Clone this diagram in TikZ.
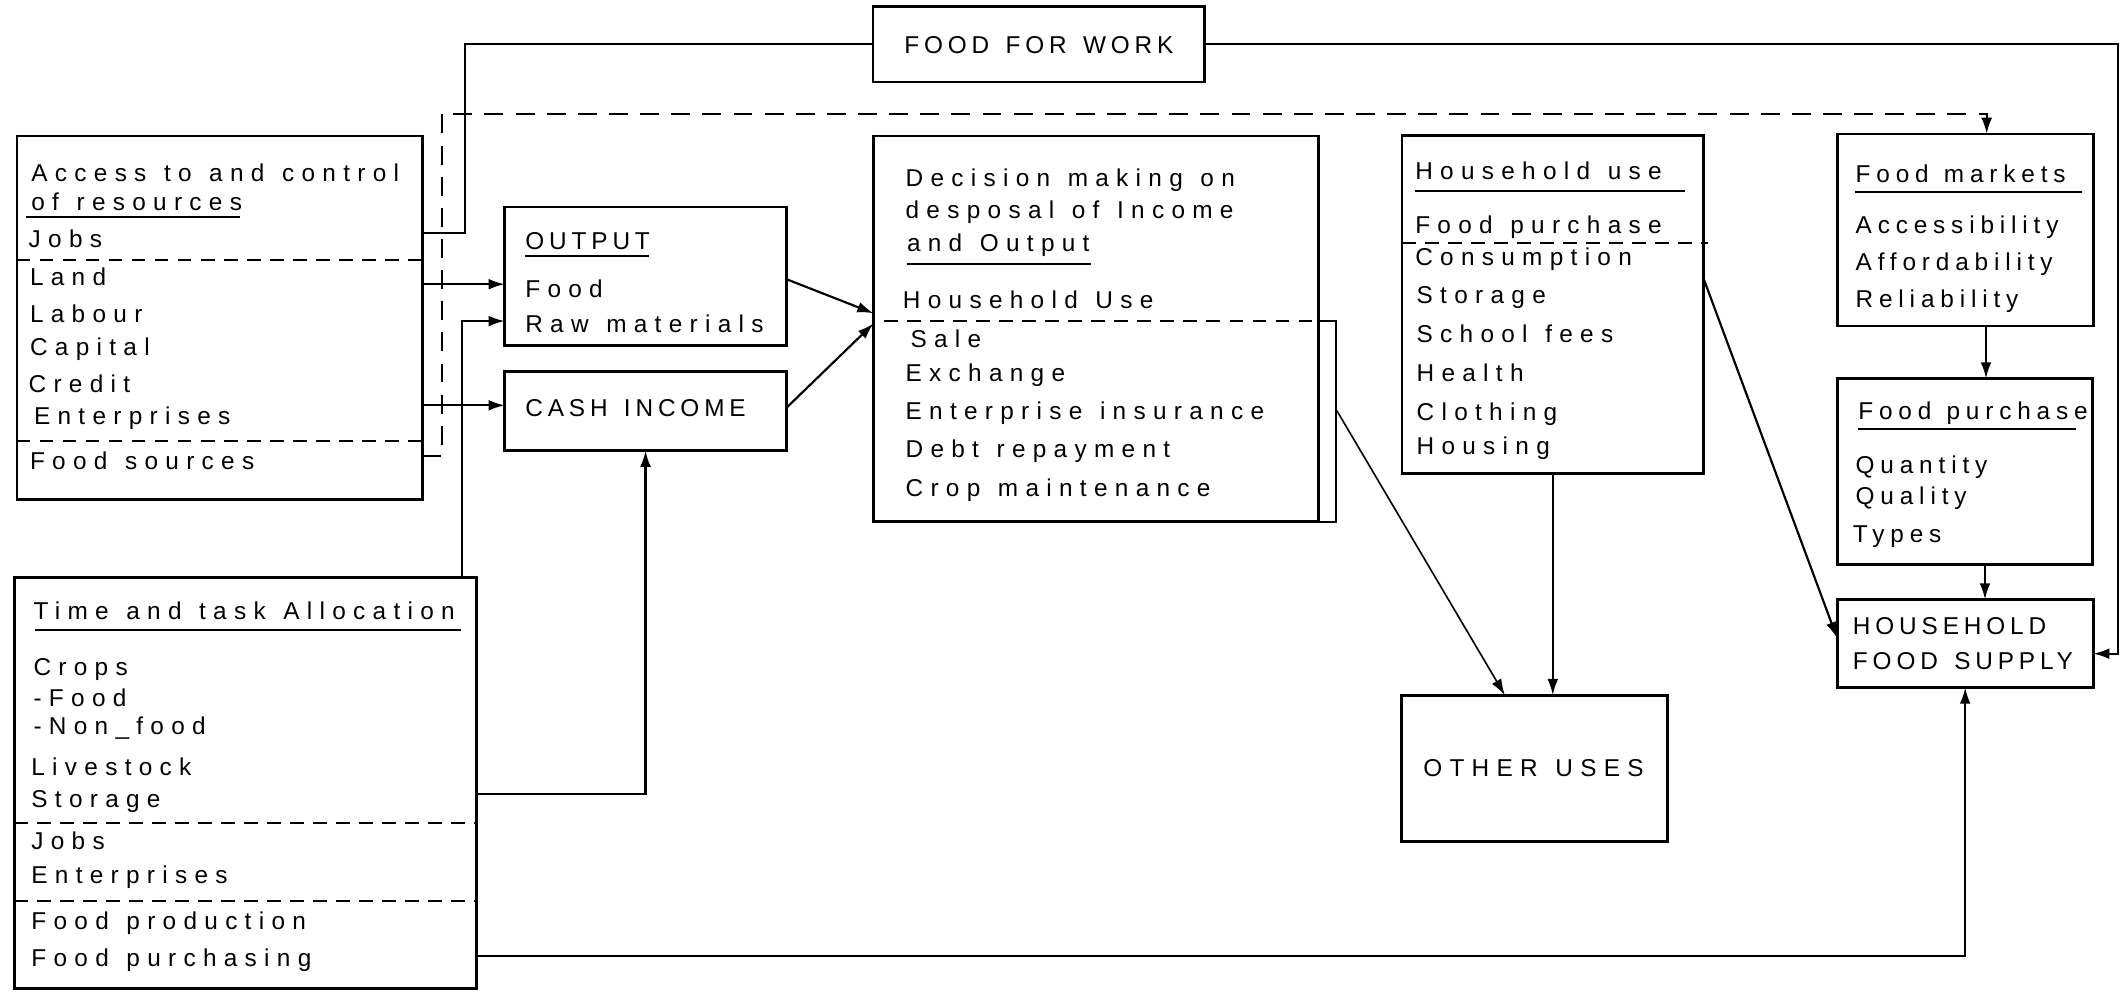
\documentclass[tikz,border=0pt]{standalone}
\usepackage{fontspec}
\setmainfont{Liberation Sans}
\newfontfamily\lsfam[LetterSpace=30,WordSpace=1.25]{Liberation Sans}
\newfontfamily\tsfam[LetterSpace=24,WordSpace=1.2]{Liberation Sans}
\newfontfamily\csfam[LetterSpace=20,WordSpace=1.4]{Liberation Sans}
\newcommand\lsf{\lsfam\fontsize{18}{20}\selectfont}
\newcommand\tsf{\tsfam\fontsize{18}{20}\selectfont}
\newcommand\csf{\csfam\fontsize{18}{20}\selectfont}
\usetikzlibrary{arrows.meta}
\begin{document}
\begin{tikzpicture}[x=1pt,y=-1pt,
  box/.style={draw, line width=2pt, inner sep=0pt, outer sep=0pt, anchor=north west},
  lab/.style={anchor=base west, inner sep=0pt, font=\lsf},
  tlab/.style={anchor=base west, inner sep=0pt, font=\tsf},
  captext/.style={anchor=base west, inner sep=0pt, font=\csf},
  conn/.style={line width=1.6pt},
  arr/.style={conn, -{Latex[length=12pt,width=8pt]}},
  dconn/.style={conn, dash pattern=on 14pt off 9pt},
  sep/.style={line width=1.3pt, dash pattern=on 10pt off 7pt},
  uline/.style={line width=1.5pt}]
\useasboundingbox (0,0) rectangle (1568,734);
\fill[white] (0,0) rectangle (1568,734);

% boxes
\node[box, minimum width=245pt, minimum height=55.5pt] (ffw) at (645,5) {};
\node[box, minimum width=299.5pt, minimum height=268.5pt] (access) at (12.5,100.5) {};
\node[box, minimum width=208pt, minimum height=102.5pt] (output) at (373,153) {};
\node[box, minimum width=208pt, minimum height=58.5pt] (cash) at (373,274.5) {};
\node[box, minimum width=328.5pt, minimum height=285pt] (decision) at (645.5,100.5) {};
\node[box, minimum width=222.8pt, minimum height=249.7pt] (household) at (1036,100.3) {};
\node[box, minimum width=196.4pt, minimum height=108.3pt] (other) at (1035.6,513.7) {};
\node[box, minimum width=189pt, minimum height=141.8pt] (markets) at (1358,99) {};
\node[box, minimum width=188.5pt, minimum height=137.6pt] (purchase) at (1357.5,279.7) {};
\node[box, minimum width=189.2pt, minimum height=65pt] (hfs) at (1357.5,443) {};
\node[box, minimum width=341.4pt, minimum height=304pt] (time) at (10.6,426.6) {};

% separators inside boxes
\draw[sep] ([yshift=-91.5pt]access.north west) -- ([yshift=-91.5pt]access.north east);
\draw[sep] ([yshift=-225.5pt]access.north west) -- ([yshift=-225.5pt]access.north east);
\draw[sep] ([yshift=-79.1pt]household.north west) -- ([xshift=3pt,yshift=-79.1pt]household.north east);
\draw[sep] ([xshift=8pt,yshift=-136.5pt]decision.north west) -- ([yshift=-136.5pt]decision.north east);
\draw[conn] ([yshift=-136.5pt]decision.north east) -- ++(13,0) |- (decision.south east);
\draw[sep] ([yshift=-181.8pt]time.north west) -- ([yshift=-181.8pt]time.north east);
\draw[sep] ([yshift=-238.9pt]time.north west) -- ([yshift=-238.9pt]time.north east);

% texts: food for work
\node[captext] (tffw) at (668,39.6) {FOOD FOR WORK};
% access
\node[lab] (a1) at (23,134) {Access to and control};
\node[lab] (a2) at (23,155.6) {of resources};
\node[lab] (a3) at (21,183) {Jobs};
\node[lab] (a4) at (22,211) {Land};
\node[lab] (a5) at (22,238) {Labour};
\node[lab] (a6) at (22,262.7) {Capital};
\node[lab] (a7) at (21,290) {Credit};
\node[lab] (a8) at (25,314) {Enterprises};
\node[lab] (a9) at (22,346.7) {Food sources};
\draw[uline] ([xshift=-4pt,yshift=-5pt]a2.base west) -- ++(158,0);
% output / cash
\node[captext] (o1) at (388,184) {OUTPUT};
\draw[uline] ([yshift=-5.4pt]o1.base west) -- ++(91.5,0);
\node[lab] (o2) at (388,220) {Food};
\node[lab] (o3) at (388,246) {Raw materials};
\node[captext] (c1) at (388,308) {CASH INCOME};
% decision
\node[lab] (d1) at (669,137.7) {Decision making on};
\node[lab] (d2) at (669,161.5) {desposal of Income};
\node[lab] (d3) at (670,186) {and Output};
\draw[uline] ([yshift=-9pt]d3.base west) -- ++(136,0);
\node[lab] (d4) at (667,228) {Household Use};
\node[lab] (d5) at (672.6,257) {Sale};
\node[lab] (d6) at (669,282) {Exchange};
\node[lab] (d7) at (669,310) {Enterprise insurance};
\node[lab] (d8) at (669,337.7) {Debt repayment};
\node[lab] (d9) at (669,366.7) {Crop maintenance};
% household use
\node[lab] (h1) at (1045.6,133) {Household use};
\draw[uline] ([yshift=-8pt]h1.base west) -- ++(199.4,0);
\node[lab] (h2) at (1045.6,172.8) {Food purchase};
\node[lab] (h3) at (1045.6,196) {Consumption};
\node[lab] (h4) at (1046.6,224) {Storage};
\node[lab] (h5) at (1046.6,253) {School fees};
\node[lab] (h6) at (1046.6,282) {Health};
\node[lab] (h7) at (1046.6,311) {Clothing};
\node[lab] (h8) at (1046.6,336) {Housing};
% other uses
\node[lab] (u1) at (1051.5,574) {OTHER USES};
% food markets
\node[tlab] (m1) at (1371,134.6) {Food markets};
\draw[uline] ([yshift=-7.2pt]m1.base west) -- ++(167.6,0);
\node[tlab] (m2) at (1371,172.2) {Accessibility};
\node[tlab] (m3) at (1371,199.6) {Affordability};
\node[tlab] (m4) at (1371,227) {Reliability};
% food purchase
\node[tlab] (p1) at (1373,310) {Food purchase};
\draw[uline] ([yshift=-6.7pt]p1.base west) -- ++(161,0);
\node[tlab] (p2) at (1371,349.7) {Quantity};
\node[tlab] (p3) at (1371,372.7) {Quality};
\node[tlab] (p4) at (1369,400.8) {Types};
% household food supply
\node[captext] (s1) at (1369,468.5) {HOUSEHOLD};
\node[captext] (s2) at (1369,494.8) {FOOD SUPPLY};
% time and task
\node[lab] (t1) at (24.6,458) {Time and task Allocation};
\draw[uline] ([xshift=1.4pt,yshift=-7.5pt]t1.base west) -- ++(314.6,0);
\node[lab] (t2) at (24.6,498.8) {Crops};
\node[lab] (t3) at (24.6,522) {-Food};
\node[lab] (t4) at (24.6,543) {-Non\_food};
\node[lab] (t5) at (23,572.7) {Livestock};
\node[lab] (t6) at (23,596.5) {Storage};
\node[lab] (t7) at (23,628) {Jobs};
\node[lab] (t8) at (23,652.7) {Enterprises};
\node[lab] (t9) at (23,687) {Food production};
\node[lab] (t10) at (23,714.3) {Food purchasing};

% connectors
\draw[conn] ([yshift=-71.5pt]access.north east) -- ++(31.6,0) |- (ffw.west);
\draw[arr] (ffw.east) -- ++(675,0) |- ([yshift=-7.5pt]hfs.east);
\draw[dconn, -{Latex[length=12pt,width=8pt]}] ([yshift=-236.5pt]access.north east) -- ++(14.6,0) -- ++(0,-253) -| ([xshift=15.5pt]markets.north);
\draw[arr] ([yshift=-5.75pt]output.west -| access.east) -- ([yshift=-5.75pt]output.west);
\draw[arr] ([xshift=-10.4pt]time.north east) |- ([yshift=-33pt]output.west);
\draw[arr] ([yshift=4.25pt]cash.west -| access.east) -- ([yshift=4.25pt]cash.west);
\draw[arr] ([yshift=-8.2pt]time.east) -| (cash.south);
\draw[arr] ([yshift=-2pt]output.east) -- ([yshift=11.5pt]decision.west);
\draw[arr] ([yshift=2.3pt]cash.east) -- ([yshift=4pt]decision.west);
\draw[arr, line width=1.2pt] ([xshift=13.8pt,yshift=-60.4pt]decision.east) -- ([xshift=-21.8pt]other.north);
\draw[arr] (household.south) -- (household.south |- other.north);
\draw[arr] ([yshift=19.35pt]household.east) -- ([yshift=3.9pt]hfs.west);
\draw[arr] ([xshift=15pt]markets.south) -- ([xshift=15pt]markets.south |- purchase.north);
\draw[arr] ([xshift=15pt]purchase.south) -- ([xshift=15pt]purchase.south |- hfs.north);
\draw[arr] ([yshift=-127.7pt]time.east) -| (hfs.south);
\end{tikzpicture}
\end{document}
